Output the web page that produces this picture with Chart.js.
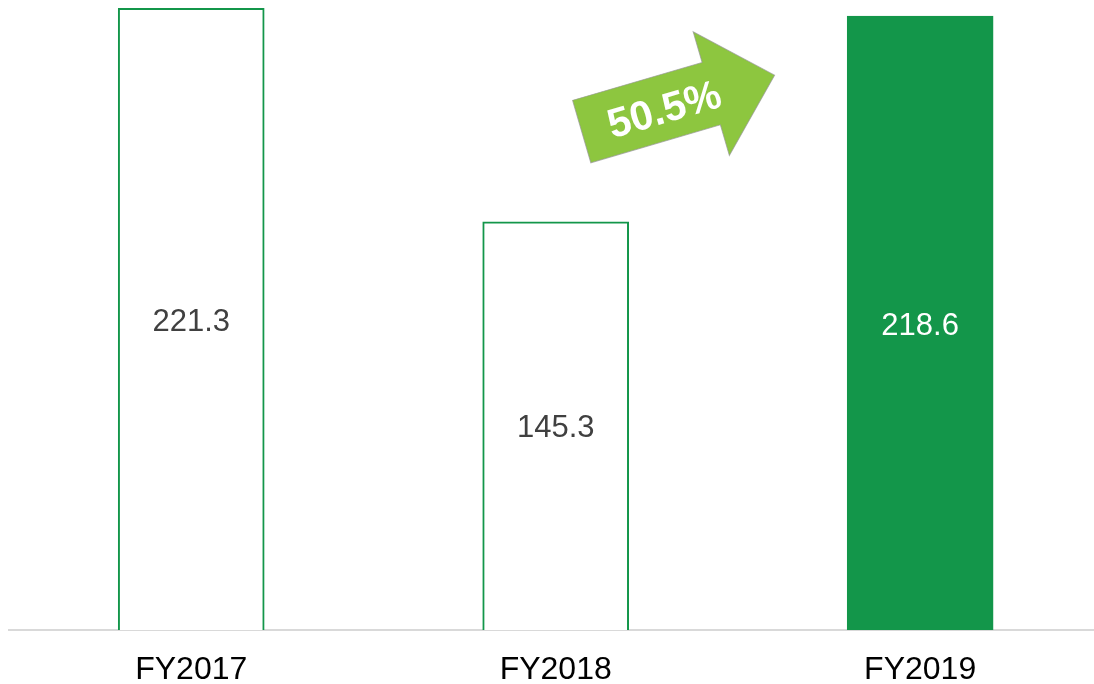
<!DOCTYPE html>
<html>
<head>
<meta charset="utf-8">
<script src="https://cdn.jsdelivr.net/npm/chart.js@4"></script>
<style>
  html, body { margin: 0; padding: 0; background: #fff; overflow: hidden; }
  #wrap { width: 1094px; height: 684px; }
</style>
</head>
<body>
<div id="wrap"><canvas id="revChart" width="1094" height="684"></canvas></div>
<script>
// chart values
const years = ['FY2017', 'FY2018', 'FY2019'];
const revenue = [221.3, 145.3, 218.6];
const growthText = '50.5%';

const green = '#13964a';
const fills = ['#ffffff', '#ffffff', green];
const labelColors = ['#404040', '#404040', '#ffffff'];

// draws the value in the middle of each bar
const barValues = {
    id: 'barValues',
    afterDatasetsDraw(chart) {
        const ctx = chart.ctx;
        const meta = chart.getDatasetMeta(0);
        ctx.save();
        ctx.font = '31px "Liberation Sans", Arial, sans-serif';
        ctx.textAlign = 'center';
        ctx.textBaseline = 'middle';
        meta.data.forEach((bar, i) => {
            const p = bar.getProps(['x', 'y', 'base'], true);
            ctx.fillStyle = labelColors[i];
            ctx.fillText(revenue[i].toFixed(1), p.x, (p.y + p.base) / 2 + 3);
        });
        ctx.restore();
    }
};

// growth arrow between FY2018 and FY2019
const growthArrow = {
    id: 'growthArrow',
    afterDatasetsDraw(chart) {
        const ctx = chart.ctx;
        const cx = chart.scales.x.getPixelForValue(1.336);
        const cy = chart.scales.y.getPixelForValue(187.5);
        ctx.save();
        ctx.translate(cx, cy);
        ctx.rotate(-16.3 * Math.PI / 180);
        ctx.beginPath();
        ctx.moveTo(-100.5, -32.5);
        ctx.lineTo(34.5, -32.5);
        ctx.lineTo(34.5, -64.5);
        ctx.lineTo(100.5, 0);
        ctx.lineTo(34.5, 64.5);
        ctx.lineTo(34.5, 32.5);
        ctx.lineTo(-100.5, 32.5);
        ctx.closePath();
        ctx.fillStyle = '#8dc63f';
        ctx.fill();
        ctx.strokeStyle = 'rgba(150,150,150,0.7)';
        ctx.lineWidth = 1;
        ctx.stroke();
        ctx.fillStyle = '#ffffff';
        ctx.font = 'bold 41px "Liberation Sans", Arial, sans-serif';
        ctx.textAlign = 'center';
        ctx.textBaseline = 'middle';
        ctx.fillText(growthText, -15, 4);
        ctx.restore();
    }
};

new Chart(document.getElementById('revChart').getContext('2d'), {
    type: 'bar',
    data: {
        datasets: [{
            data: revenue.map((v, i) => ({ x: i, y: v })),
            backgroundColor: fills,
            borderColor: green,
            borderWidth: 2,
            borderSkipped: 'bottom',
            barThickness: 146
        }]
    },
    options: {
        responsive: false,
        animation: false,
        layout: { padding: { left: 9, right: 0, top: 0, bottom: 0 } },
        plugins: {
            legend: { display: false },
            tooltip: { enabled: false }
        },
        scales: {
            x: {
                type: 'linear',
                min: -0.5,
                max: 2.477,
                offset: false,
                bounds: 'data',
                afterBuildTicks: axis => {
                    axis.ticks = years.map((y, i) => ({ value: i }));
                },
                afterFit: axis => { axis.height = 54; },
                grid: { display: false, drawTicks: false, offset: false },
                border: { display: true, color: '#d9d9d9', width: 2 },
                ticks: {
                    color: '#000000',
                    font: { family: '"Liberation Sans", Arial, sans-serif', size: 32 },
                    padding: 21,
                    maxRotation: 0,
                    callback: v => years[v]
                }
            },
            y: {
                display: false,
                min: 0,
                max: 224.3
            }
        }
    },
    plugins: [barValues, growthArrow]
});
</script>
</body>
</html>
